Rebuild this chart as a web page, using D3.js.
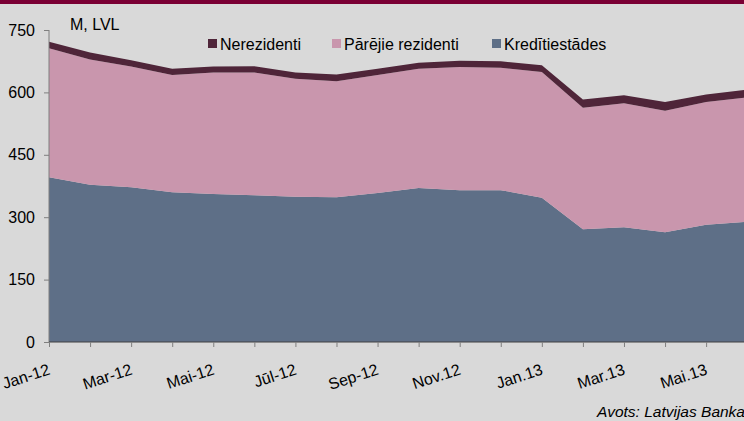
<!DOCTYPE html>
<html>
<head>
<meta charset="utf-8">
<script src="https://cdn.jsdelivr.net/npm/d3@7"></script>
<style>
  html, body { margin: 0; padding: 0; background: #d9d9d9; }
  svg { display: block; font-family: "Liberation Sans", Arial, sans-serif; }
</style>
</head>
<body>
<svg id="chart" width="744" height="421"></svg>
<script>
const months = ["Jan-12","Feb-12","Mar-12","Apr-12","Mai-12","Jūn-12","Jūl-12","Aug-12","Sep-12","Okt-12","Nov.12","Dec.12","Jan.13","Feb.13","Mar.13","Apr.13","Mai.13","Jūn.13"];
const kreditiestades = [396, 378, 372, 360, 356, 353, 349, 348, 358, 370, 365, 365, 347, 271, 276, 264, 282, 289];
const parejieRezidenti = [310, 301, 290, 282, 292, 295, 284, 279, 284, 287, 296, 294, 302, 292, 298, 292, 295, 299];
const nerezidenti = [16, 17, 15, 15, 14, 15, 15, 16, 15, 14, 15, 16, 16, 20, 19, 21, 18, 19];
const yTicks = [0, 150, 300, 450, 600, 750];
const seriesNames = ["Kredītiestādes", "Pārējie rezidenti", "Nerezidenti"];
const legendOrder = ["Nerezidenti", "Pārējie rezidenti", "Kredītiestādes"];
const colors = {"Kredītiestādes": "#5e6f87", "Pārējie rezidenti": "#c996ad", "Nerezidenti": "#4f2539"};

const svg = d3.select("#chart");
const W = 744, H = 421;
svg.append("rect").attr("width", W).attr("height", H).attr("fill", "#d9d9d9");
svg.append("rect").attr("width", W).attr("height", 4).attr("fill", "#7a0034");

const table = months.map((m, i) => ({
  month: m,
  "Kredītiestādes": kreditiestades[i],
  "Pārējie rezidenti": parejieRezidenti[i],
  "Nerezidenti": nerezidenti[i]
}));

const x = d3.scalePoint().domain(months).range([49, 49 + 17 * 41.07]);
const y = d3.scaleLinear().domain([0, 750]).range([342, 30]);

const layers = d3.stack().keys(seriesNames)(table);

const area = d3.area()
  .x(d => x(d.data.month))
  .y0(d => y(d[0]))
  .y1(d => y(d[1]));

svg.append("g").selectAll("path").data(layers).join("path")
  .attr("d", area)
  .attr("fill", d => colors[d.key]);

// Y axis
const yAxis = d3.axisLeft(y).tickValues(yTicks).tickSize(5).tickPadding(9);
const gy = svg.append("g").attr("transform", "translate(49,0)").call(yAxis);
gy.select(".domain").attr("stroke", "#7f7f7f").attr("d", "M0,30V342");
gy.selectAll(".tick line").attr("stroke", "#7f7f7f");
gy.selectAll(".tick text").attr("font-size", 16).attr("fill", "#000")
  .attr("font-family", "Liberation Sans, Arial, sans-serif");

// X axis (ticks every month, labels every other month)
const xAxis = d3.axisBottom(x).tickSize(5).tickFormat(() => "");
const gx = svg.append("g").attr("transform", "translate(0,342)").call(xAxis);
gx.select(".domain").attr("stroke", "#404040").attr("d", "M49,0H744");
gx.selectAll(".tick line").attr("stroke", "#7f7f7f");
gx.selectAll(".tick text").remove();

svg.append("g").selectAll("text")
  .data(months.filter((d, i) => i % 2 === 0))
  .join("text")
  .attr("text-anchor", "end")
  .attr("font-size", 16)
  .attr("fill", "#000")
  .style("transform-box", "view-box")
  .style("transform", d => "translate(" + (x(d) + 2) + "px,374px) rotate(-18deg)")
  .text(d => d);

// Unit label
svg.append("text").attr("x", 70).attr("y", 30).attr("font-size", 16).text("M, LVL");

// Legend
const legendX = {"Nerezidenti": 208, "Pārējie rezidenti": 332, "Kredītiestādes": 492};
const lg = svg.append("g");
legendOrder.forEach(k => {
  lg.append("rect").attr("x", legendX[k]).attr("y", 39).attr("width", 9).attr("height", 9).attr("fill", colors[k]);
  lg.append("text").attr("x", legendX[k] + 12).attr("y", 50).attr("font-size", 16).attr("fill", "#000").text(k);
});

// Source
svg.append("text").attr("x", 745).attr("y", 417).attr("text-anchor", "end")
  .attr("font-size", 15.5).attr("font-style", "italic").text("Avots: Latvijas Banka");
</script>
</body>
</html>
